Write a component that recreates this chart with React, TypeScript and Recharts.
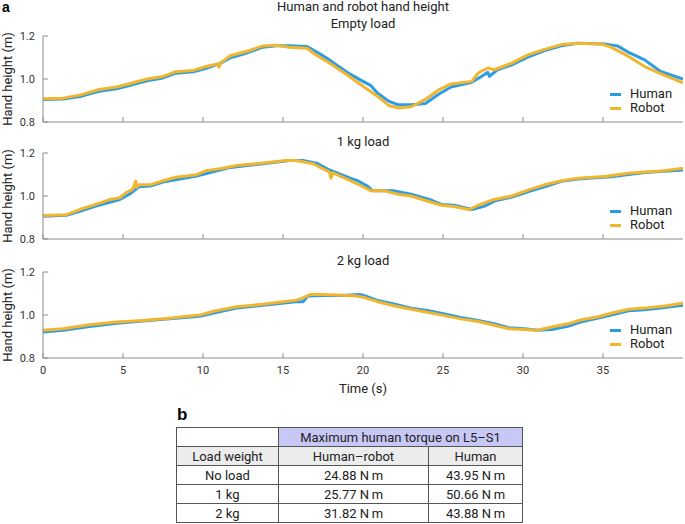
import React from 'react'
import { LineChart, Line, XAxis, YAxis, Legend, Label } from 'recharts'

// time in s, hand height in m
const timeTicks = [0, 5, 10, 15, 20, 25, 30, 35]
const heightTicks = [0.8, 1.0, 1.2]

const emptyHumanT = [0, 1.25, 2.3, 3.5, 4.6, 5.4, 6.5, 7.5, 8.3, 9.4, 10.2, 11.0, 11.7, 12.7, 13.75, 14.6, 15.4, 16.5, 17.3, 17.9, 19.0, 20.0, 20.5, 20.9, 21.6, 22.2, 23.0, 23.9, 24.7, 25.5, 26.8, 27.4, 27.8, 27.9, 28.4, 29.3, 30.3, 31.35, 32.4, 33.4, 35.1, 35.9, 36.7, 37.6, 38.6, 40]
const emptyHuman = [0.905, 0.907, 0.918, 0.943, 0.955, 0.97, 0.992, 1.005, 1.027, 1.034, 1.05, 1.07, 1.098, 1.12, 1.148, 1.155, 1.155, 1.151, 1.117, 1.089, 1.031, 0.989, 0.969, 0.935, 0.897, 0.88, 0.88, 0.886, 0.928, 0.963, 0.985, 1.012, 1.031, 1.012, 1.043, 1.066, 1.102, 1.132, 1.154, 1.166, 1.163, 1.154, 1.12, 1.089, 1.035, 1.0]
const emptyRobotT = [0, 1.25, 2.3, 3.5, 4.6, 5.4, 6.5, 7.5, 8.3, 9.4, 10.2, 10.9, 11.0, 11.1, 11.7, 12.7, 13.75, 14.6, 15.4, 16.5, 16.9, 17.9, 19.0, 20.0, 20.9, 21.6, 22.2, 23.0, 23.9, 24.7, 25.5, 26.8, 27.2, 27.8, 28.2, 29.3, 30.3, 31.35, 32.4, 33.4, 34.9, 35.5, 36.6, 37.6, 38.6, 40]
const emptyRobot = [0.908, 0.911, 0.925, 0.951, 0.963, 0.978, 1.0, 1.012, 1.034, 1.04, 1.058, 1.07, 1.055, 1.075, 1.108, 1.128, 1.154, 1.157, 1.148, 1.143, 1.12, 1.074, 1.02, 0.966, 0.92, 0.877, 0.865, 0.871, 0.905, 0.948, 0.977, 0.989, 1.028, 1.051, 1.043, 1.074, 1.112, 1.138, 1.16, 1.166, 1.163, 1.148, 1.105, 1.058, 1.025, 0.982]

const oneKgHumanT = [0, 1.46, 2.3, 3.3, 4.8, 5.4, 6.0, 6.7, 7.5, 9.6, 11.6, 13.75, 15.4, 16.25, 17.1, 17.9, 19.2, 19.7, 20.3, 20.6, 21.9, 23.0, 24.3, 24.9, 25.7, 26.8, 27.6, 28.2, 29.3, 30.5, 31.35, 32.4, 33.4, 35.5, 37.6, 40]
const oneKgHuman = [0.906, 0.91, 0.929, 0.953, 0.984, 1.008, 1.043, 1.046, 1.065, 1.093, 1.131, 1.15, 1.165, 1.165, 1.153, 1.121, 1.083, 1.07, 1.045, 1.024, 1.024, 1.008, 0.98, 0.961, 0.957, 0.937, 0.953, 0.976, 0.995, 1.024, 1.043, 1.068, 1.079, 1.09, 1.109, 1.121]
const oneKgRobotT = [0, 1.46, 2.3, 3.3, 4.2, 4.8, 5.2, 5.6, 5.8, 5.85, 6.0, 6.7, 7.5, 8.3, 9.6, 10.2, 11.25, 12.1, 13.3, 14.2, 15.2, 15.8, 16.9, 17.5, 17.9, 18.0, 18.1, 18.3, 19.2, 20.0, 20.5, 21.35, 22.2, 23.0, 23.85, 24.9, 25.7, 26.6, 27.2, 28.2, 29.3, 30.3, 31.35, 32.4, 33.4, 35.1, 36.6, 37.6, 38.85, 40]
const oneKgRobot = [0.909, 0.913, 0.937, 0.961, 0.984, 0.992, 1.016, 1.031, 1.07, 1.04, 1.052, 1.052, 1.071, 1.087, 1.099, 1.118, 1.129, 1.142, 1.15, 1.157, 1.165, 1.165, 1.15, 1.126, 1.112, 1.083, 1.108, 1.102, 1.071, 1.043, 1.024, 1.024, 1.008, 1.0, 0.98, 0.957, 0.951, 0.937, 0.957, 0.984, 1.0, 1.027, 1.052, 1.071, 1.082, 1.091, 1.106, 1.112, 1.118, 1.129]

const twoKgHumanT = [0, 1.25, 2.9, 4.6, 7.9, 9.8, 10.8, 12.1, 13.75, 15.8, 16.25, 16.55, 17.5, 18.75, 19.8, 20.0, 20.9, 22.0, 23.0, 24.1, 25.1, 26.1, 27.2, 28.2, 29.1, 30.1, 30.9, 31.8, 32.8, 33.6, 34.7, 35.5, 36.6, 37.6, 38.85, 40]
const twoKgHuman = [0.921, 0.929, 0.947, 0.962, 0.982, 0.994, 1.012, 1.032, 1.045, 1.062, 1.062, 1.088, 1.091, 1.091, 1.095, 1.092, 1.068, 1.05, 1.032, 1.02, 1.005, 0.989, 0.974, 0.959, 0.941, 0.936, 0.929, 0.932, 0.947, 0.967, 0.986, 1.0, 1.02, 1.024, 1.035, 1.045]
const twoKgRobotT = [0, 1.25, 2.9, 4.6, 6.25, 7.9, 9.0, 9.8, 10.8, 12.1, 13.75, 15.0, 15.8, 16.25, 16.7, 17.5, 18.75, 19.6, 20.0, 20.9, 22.0, 23.0, 24.1, 25.1, 26.1, 27.2, 28.2, 29.1, 30.1, 30.9, 31.8, 32.8, 33.6, 34.7, 35.5, 36.6, 37.6, 38.85, 40]
const twoKgRobot = [0.929, 0.936, 0.955, 0.967, 0.974, 0.985, 0.994, 1.0, 1.02, 1.038, 1.05, 1.062, 1.068, 1.08, 1.095, 1.095, 1.092, 1.088, 1.083, 1.062, 1.042, 1.027, 1.012, 0.997, 0.982, 0.97, 0.952, 0.936, 0.933, 0.929, 0.944, 0.959, 0.977, 0.992, 1.008, 1.027, 1.032, 1.042, 1.055]

const loadLabels = ['No load', '1 kg', '2 kg']
const torqueHumanRobot = [24.88, 25.77, 31.82]
const torqueHuman = [43.95, 50.66, 43.88]

const HUMAN_COLOR = '#2c9de4'
const ROBOT_COLOR = '#f1b52e'
const AXIS_COLOR = '#8c8c8c'
const FONT = 'Roboto, "Noto Sans", sans-serif'

const zip = (t: number[], h: number[]) => t.map((x, i) => ({ t: x, h: h[i] }))

function HandLegend() {
  const items: [string, string][] = [['Human', HUMAN_COLOR], ['Robot', ROBOT_COLOR]]
  return (
    <div style={{ fontFamily: FONT, fontSize: 13, color: '#222', lineHeight: '14px' }}>
      {items.map(([name, c]) => (
        <div key={name} style={{ display: 'flex', alignItems: 'center' }}>
          <span style={{ display: 'inline-block', width: 11, height: 3, background: c, marginRight: 9 }} />
          {name}
        </div>
      ))}
    </div>
  )
}

function YTitle(props: any) {
  const vb = props.viewBox
  const cy = vb.y + vb.height / 2
  return (
    <text x={7} y={cy} transform={`rotate(-90, 7, ${cy})`} textAnchor="middle" dominantBaseline="central"
      fontSize={13} fill="#222" fontFamily={FONT}>
      Hand height (m)
    </text>
  )
}

interface PanelProps {
  human: { t: number; h: number }[]
  robot: { t: number; h: number }[]
  top: number
  height: number
  marginTop: number
  axisHeight: number
  showTime?: boolean
}

function HandPanel({ human, robot, top, height, marginTop, axisHeight, showTime }: PanelProps) {
  const plotBottom = height - axisHeight
  return (
    <div style={{ position: 'absolute', left: 0, top }}>
      <LineChart width={685} height={height} margin={{ top: marginTop, right: 2, bottom: 0, left: 0 }}>
        <XAxis dataKey="t" type="number" domain={[0, 40]} ticks={timeTicks} allowDataOverflow
          height={axisHeight} stroke={AXIS_COLOR} tickSize={-5} tickMargin={showTime ? 13 : 0}
          tickFormatter={(v) => (showTime ? String(v) : '')}
          tick={{ fontSize: 11, fill: '#333', fontFamily: FONT }}>
          {showTime && (
            <Label value="Time (s)" position="insideBottom" offset={10} fontSize={13} fill="#222" fontFamily={FONT} />
          )}
        </XAxis>
        <XAxis xAxisId="frame" orientation="top" type="number" domain={[0, 40]} height={0} tick={false} tickLine={false} stroke={AXIS_COLOR} />
        <YAxis type="number" domain={[0.8, 1.2]} ticks={heightTicks} width={43} stroke={AXIS_COLOR}
          tickSize={-5} tickMargin={13} tickFormatter={(v) => Number(v).toFixed(1)}
          tick={{ fontSize: 11, fill: '#333', fontFamily: FONT }}>
          <Label content={YTitle} />
        </YAxis>
        <YAxis yAxisId="frame" orientation="right" type="number" domain={[0.8, 1.2]} width={0} tick={false} tickLine={false} stroke={AXIS_COLOR} />
        <Legend layout="vertical" align="center" verticalAlign="middle" width={70}
          wrapperStyle={{ left: 610, top: plotBottom - 35 }} content={<HandLegend />} />
        <Line data={human} dataKey="h" name="Human" stroke={HUMAN_COLOR} strokeWidth={3} dot={false}
          strokeLinejoin="round" isAnimationActive={false} />
        <Line data={robot} dataKey="h" name="Robot" stroke={ROBOT_COLOR} strokeWidth={3} dot={false}
          strokeLinejoin="round" isAnimationActive={false} />
      </LineChart>
    </div>
  )
}

const titleStyle: React.CSSProperties = {
  position: 'absolute', left: 43, width: 640, textAlign: 'center', fontSize: 13, color: '#222',
  fontFamily: FONT, lineHeight: '14px',
}

const cell: React.CSSProperties = { border: '1px solid #555', padding: 0, height: 18, textAlign: 'center' }

export default function App() {
  return (
    <div style={{ position: 'absolute', left: 0, top: 0, width: 685, height: 524, background: '#fff', overflow: 'hidden' }}>
      <div style={{ position: 'absolute', left: 2, top: 0, fontSize: 14, fontWeight: 'bold', fontFamily: '"Liberation Sans", Arial, sans-serif', lineHeight: '14px' }}>a</div>
      <div style={{ ...titleStyle, top: 0 }}>Human and robot hand height</div>
      <div style={{ ...titleStyle, top: 17 }}>Empty load</div>
      <HandPanel human={zip(emptyHumanT, emptyHuman)} robot={zip(emptyRobotT, emptyRobot)}
        top={0} height={130} marginTop={36} axisHeight={8} />
      <div style={{ ...titleStyle, top: 135 }}>1 kg load</div>
      <HandPanel human={zip(oneKgHumanT, oneKgHuman)} robot={zip(oneKgRobotT, oneKgRobot)}
        top={130} height={118} marginTop={23} axisHeight={9} />
      <div style={{ ...titleStyle, top: 254 }}>2 kg load</div>
      <HandPanel human={zip(twoKgHumanT, twoKgHuman)} robot={zip(twoKgRobotT, twoKgRobot)}
        top={248} height={155} marginTop={24} axisHeight={45} showTime />

      <div style={{ position: 'absolute', left: 177, top: 406, fontSize: 17, fontWeight: 'bold', fontFamily: '"Liberation Sans", Arial, sans-serif', lineHeight: 1 }}>b</div>
      <table style={{ position: 'absolute', left: 176, top: 427, width: 346, borderCollapse: 'collapse',
        fontFamily: FONT, fontSize: 13, color: '#222', tableLayout: 'fixed' }}>
        <colgroup>
          <col style={{ width: 102 }} />
          <col style={{ width: 150 }} />
          <col style={{ width: 94 }} />
        </colgroup>
        <tbody>
          <tr>
            <td style={cell} />
            <td style={{ ...cell, background: '#c8c8f7' }} colSpan={2}>Maximum human torque on L5–S1</td>
          </tr>
          <tr style={{ background: '#ececec' }}>
            <td style={cell}>Load weight</td>
            <td style={cell}>Human–robot</td>
            <td style={cell}>Human</td>
          </tr>
          {loadLabels.map((load, i) => (
            <tr key={load}>
              <td style={cell}>{load}</td>
              <td style={cell}>{torqueHumanRobot[i].toFixed(2)} N{'\u2009'}m</td>
              <td style={cell}>{torqueHuman[i].toFixed(2)} N{'\u2009'}m</td>
            </tr>
          ))}
        </tbody>
      </table>
    </div>
  )
}
